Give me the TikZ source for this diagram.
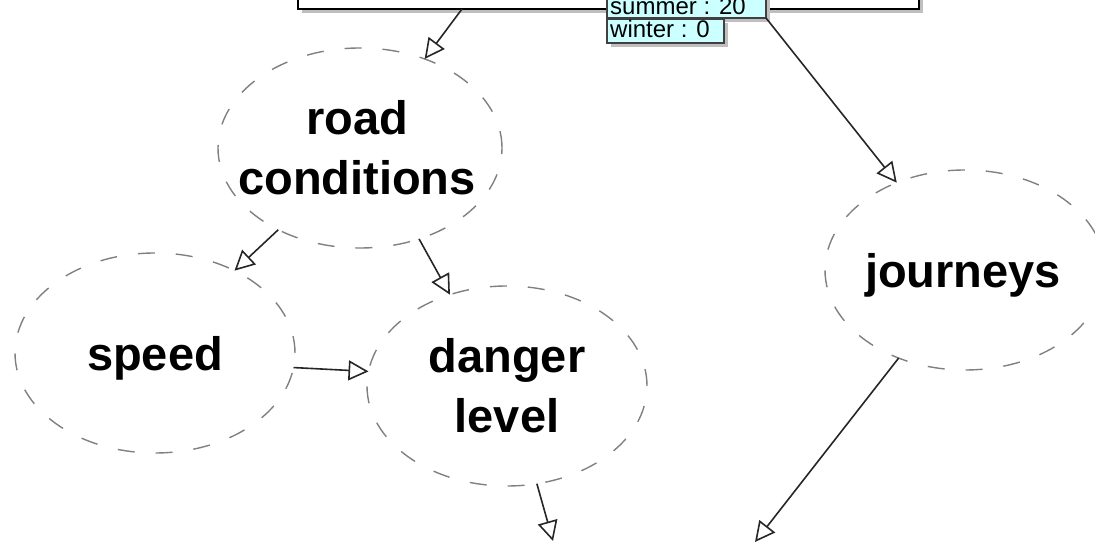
\documentclass[tikz,border=0pt]{standalone}
\usepackage{fontspec}
\setmainfont{Liberation Sans}
\usetikzlibrary{arrows.meta,shapes.geometric,shadows}
\definecolor{tagfill}{RGB}{204,255,255}
\begin{document}
\begin{tikzpicture}[x=1pt,y=1pt,
  bubble/.style={ellipse,draw=black!50,line width=1.4pt,dash pattern=on 17pt off 21pt,
    minimum width=280pt,minimum height=200pt,inner sep=0pt,outer sep=0pt},
  bubbletext/.style={font=\bfseries\fontsize{47}{60}\selectfont,align=center,inner sep=0pt},
  topbox/.style={rectangle,draw=black,line width=1.7pt,fill=white,inner sep=0pt,outer sep=0pt,
    drop shadow={shadow xshift=4pt,shadow yshift=-4pt,fill=black!25,opacity=1}},
  tagbox/.style={rectangle,draw=black!75,line width=1.1pt,fill=tagfill,inner sep=0pt,outer sep=0pt,
    drop shadow={shadow xshift=4pt,shadow yshift=-4pt,fill=black!25,opacity=1}},
  tagtext/.style={font=\fontsize{24}{24}\selectfont,inner sep=0pt,anchor=base west},
  arr/.style={draw=black!85,line width=1.6pt,-{Triangle[open,length=20pt,width=20pt,line width=1.6pt]}}
]
\useasboundingbox (0,0) rectangle (1095,543);

% table box at the top edge
\node[topbox,anchor=south west,minimum width=621pt,minimum height=40pt] (model) at (298,534) {};

% value tags
\node[tagbox,anchor=south west,minimum width=159pt,minimum height=28pt] (summer) at (607,525) {};
\node[tagtext] (summertext) at (610,528) {summer : 20};
\node[tagbox,anchor=south west,minimum width=117pt,minimum height=24pt] (winter) at (607,500) {};
\node[tagtext] (wintertext) at (610,505) {winter : 0};

% variables
\node[bubble,minimum width=284pt] (road) at (360,395) {};
\node[bubbletext] (roadtext) at (357,395) {road\\conditions};

\node[bubble] (speed) at (155,190) {};
\node[bubbletext,text depth=0pt] (speedtext) at (speed) {speed};

\node[bubble] (danger) at (507,157) {};
\node[bubbletext] (dangertext) at (danger) {danger\\level};

\node[bubble] (journeys) at (965,273) {};
\node[bubbletext,text depth=0pt] (journeystext) at (963,273) {journeys};

% loose ends at the bottom edge
\coordinate (out1) at (553,2);
\coordinate (out2) at (755,1);

% dependencies
\draw[arr] ([xshift=164pt]model.south west) -- (road.54);
\draw[arr] (summer.south east) -- (journeys.128);
\draw[arr] (road.225) -- (speed.46);
\draw[arr] (road.303) -- (danger.122);
\draw[arr] (speed.354) -- (danger.174);
\draw[arr] (danger.287) -- (out1);
\draw[arr] (journeys.233) -- (out2);
\end{tikzpicture}
\end{document}
